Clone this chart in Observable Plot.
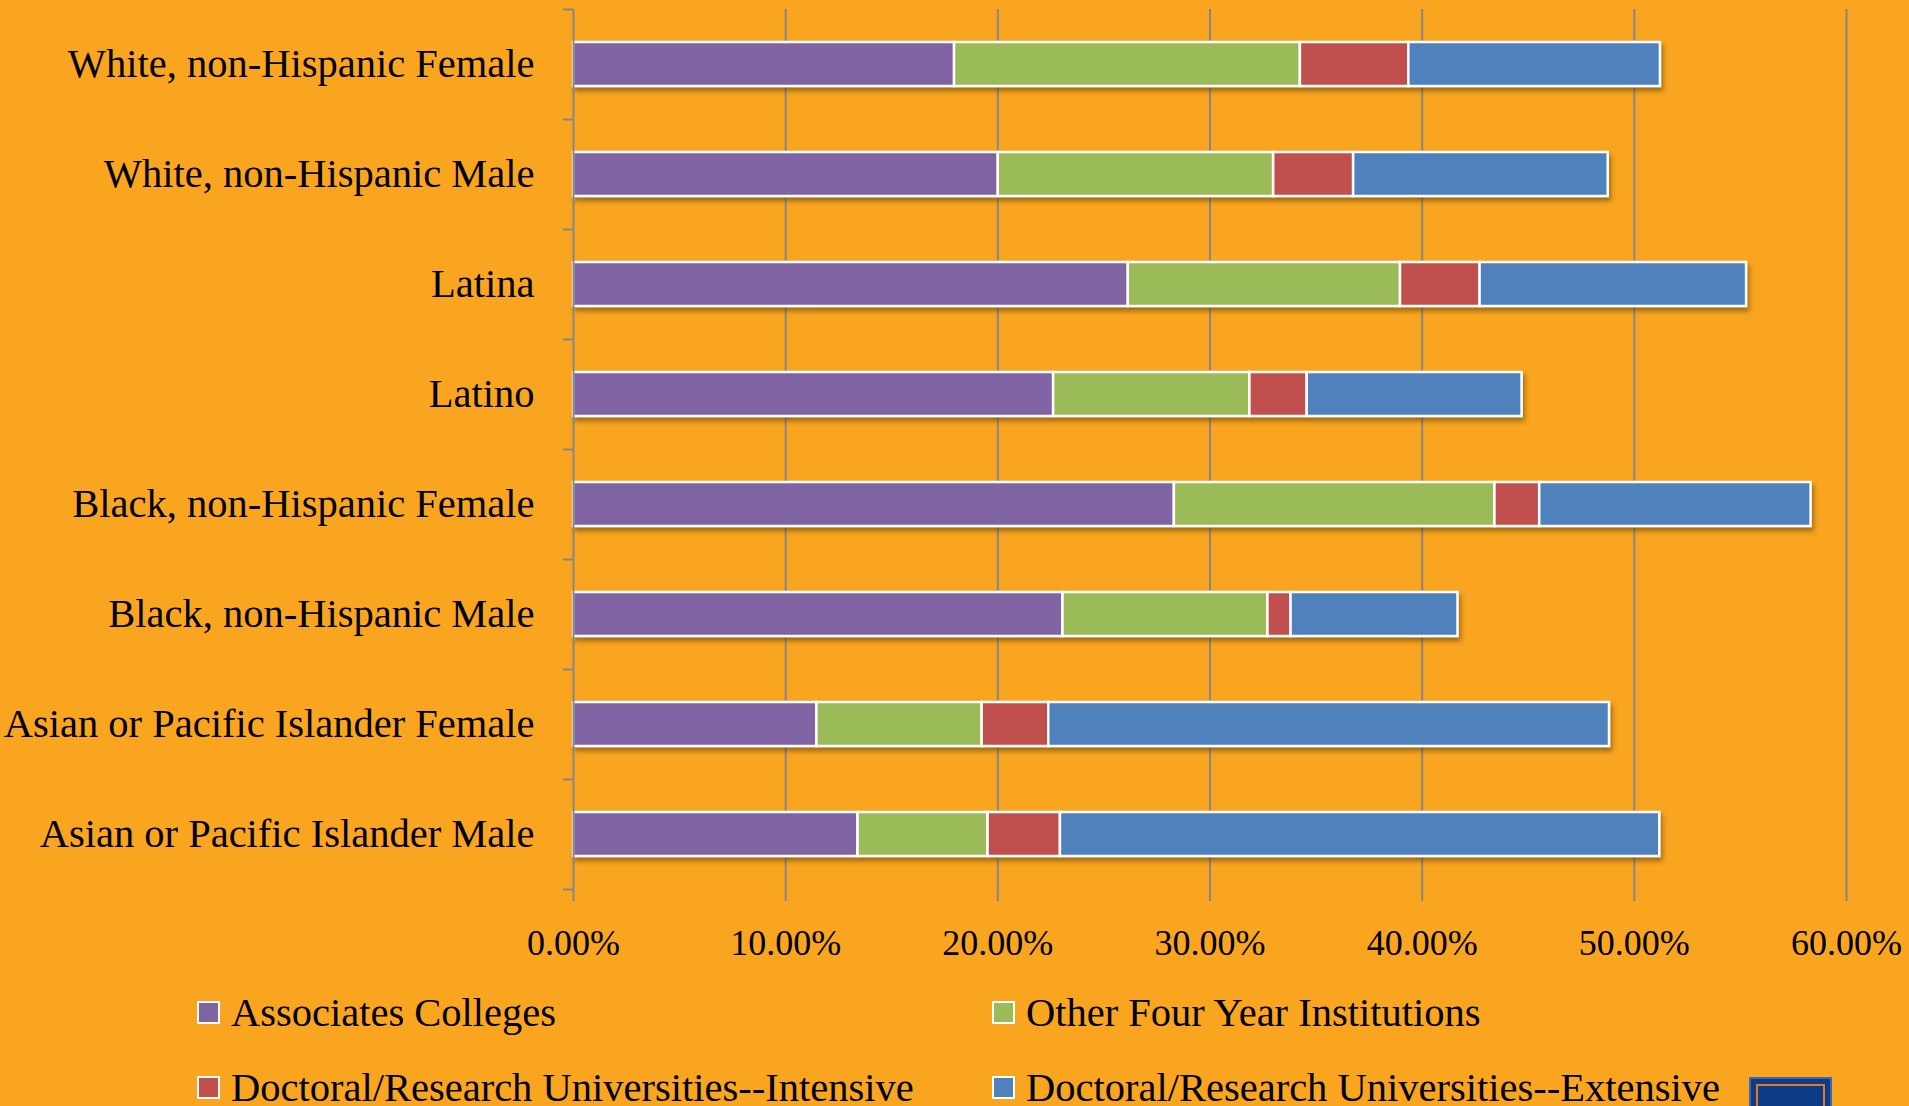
<!DOCTYPE html>
<html>
<head>
<meta charset="utf-8">
<script src="https://cdn.jsdelivr.net/npm/d3@7"></script>
<script src="https://cdn.jsdelivr.net/npm/@observablehq/plot@0.6"></script>
<style>
  html, body { margin: 0; padding: 0; background: #F9A51F; overflow: hidden; }
  #wrap { position: relative; width: 1909px; height: 1106px; background: #F9A51F; font-family: "Liberation Serif", serif; }
  .leg { position: absolute; height: 44px; display: flex; align-items: center; font-size: 40.5px; color: #000; white-space: nowrap; }
  .sw { width: 19px; height: 19px; border: 2px solid #fff; margin-right: 11px; box-sizing: content-box; }
  #logo { position: absolute; left: 1749px; top: 1077px; width: 79px; height: 40px; background: #0E3B86; border: 2px solid #3A6BB0; }
  #logo div { position: absolute; left: 5px; top: 5px; right: 5px; bottom: -10px; border: 2px solid #E07A2A; }
</style>
</head>
<body>
<div id="wrap">
  <div id="chart"></div>
  <div id="legend"></div>
  <div id="logo"><div></div></div>
</div>
<script>
const categories = [
  "White, non-Hispanic Female",
  "White, non-Hispanic Male",
  "Latina",
  "Latino",
  "Black, non-Hispanic Female",
  "Black, non-Hispanic Male",
  "Asian or Pacific Islander Female",
  "Asian or Pacific Islander Male"
];
const seriesNames = [
  "Associates Colleges",
  "Other Four Year Institutions",
  "Doctoral/Research Universities--Intensive",
  "Doctoral/Research Universities--Extensive"
];
const colors = ["#8064A2", "#9BBB59", "#C0504D", "#4F81BD"];
const associates = [17.96, 20.02, 26.15, 22.63, 28.32, 23.07, 11.47, 13.41];
const otherFour  = [16.30, 12.98, 12.83, 9.25, 15.11, 9.66, 7.79, 6.13];
const intensive  = [5.11, 3.77, 3.75, 2.70, 2.11, 1.09, 3.14, 3.41];
const extensive  = [11.86, 12.00, 12.56, 10.13, 12.79, 7.87, 26.43, 28.25];
const xTicks = [0, 10, 20, 30, 40, 50, 60];

const seriesValues = [associates, otherFour, intensive, extensive];
const data = [];
seriesNames.forEach((s, i) => {
  categories.forEach((c, j) => data.push({cat: c, series: s, value: seriesValues[i][j]}));
});

const W = 1909, H = 975, mL = 573, mR = 63, mT = 9, mB = 86;
const step = (H - mT - mB) / categories.length;
const gray = "#878787";

const chart = Plot.plot({
  width: W, height: H,
  marginLeft: mL, marginRight: mR, marginTop: mT, marginBottom: mB,
  style: {background: "transparent", fontFamily: "Liberation Serif, serif", fontSize: "36px", color: "#000", overflow: "visible"},
  x: {domain: [0, 60], ticks: xTicks, label: null},
  y: {domain: categories, paddingInner: 0.6, paddingOuter: 0.3, round: false, label: null},
  color: {domain: seriesNames, range: colors},
  marks: [
    Plot.ruleX(xTicks.slice(1), {stroke: gray, strokeWidth: 2}),
    Plot.barX(data, Plot.stackX({x: "value", y: "cat", fill: "series", order: seriesNames, stroke: "#fff", strokeWidth: 2.5})),
    Plot.ruleX([0], {stroke: gray, strokeWidth: 2}),
    Plot.axisX({ticks: xTicks, tickSize: 12, tickPadding: 28, tickFormat: d => d.toFixed(2) + "%", line: true, stroke: gray, strokeWidth: 2, fontSize: 36, label: null}),
    Plot.axisY({tickSize: 0, tickPadding: 39, fontSize: 40.5, label: null}),
    Plot.axisY({ticks: categories, tickSize: 10, dy: -step / 2, tickFormat: () => "", stroke: gray, strokeWidth: 2, label: null}),
    Plot.axisY({ticks: [categories[categories.length - 1]], tickSize: 10, dy: step / 2, tickFormat: () => "", stroke: gray, strokeWidth: 2, label: null})
  ]
});

// drop shadow on bars
const ns = "http://www.w3.org/2000/svg";
const defs = document.createElementNS(ns, "defs");
defs.innerHTML = '<filter id="sh" x="-5%" y="-20%" width="110%" height="160%"><feDropShadow dx="2" dy="4" stdDeviation="2.5" flood-color="#5a3a00" flood-opacity="0.55"/></filter>';
chart.insertBefore(defs, chart.firstChild);
const barG = chart.querySelector('g[aria-label="bar"]');
if (barG) barG.setAttribute("filter", "url(#sh)");

document.getElementById("chart").appendChild(chart);

// legend
const legend = document.getElementById("legend");
const legPos = [
  {left: 197, top: 990}, {left: 992, top: 990},
  {left: 197, top: 1065}, {left: 992, top: 1065}
];
seriesNames.forEach((s, i) => {
  const d = document.createElement("div");
  d.className = "leg";
  d.style.left = legPos[i].left + "px";
  d.style.top = legPos[i].top + "px";
  const sw = document.createElement("span");
  sw.className = "sw";
  sw.style.background = colors[i];
  const t = document.createElement("span");
  t.textContent = s;
  d.appendChild(sw); d.appendChild(t);
  legend.appendChild(d);
});
</script>
</body>
</html>
